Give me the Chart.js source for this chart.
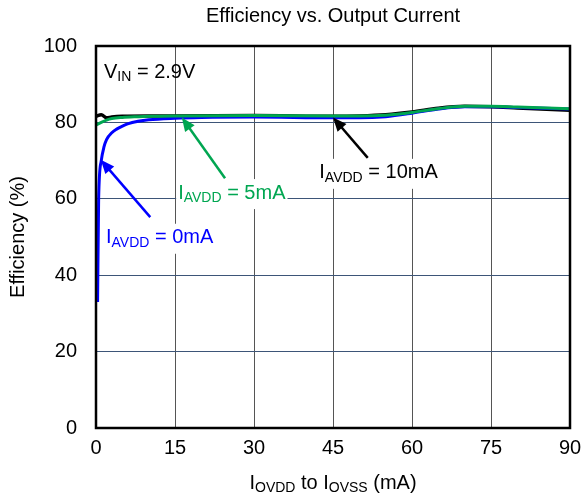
<!DOCTYPE html>
<html>
<head>
<meta charset="utf-8">
<script src="https://cdn.jsdelivr.net/npm/chart.js@4"></script>
<style>
  html, body { margin: 0; padding: 0; background: #fff; }
  #wrap { width: 582px; height: 503px; }
</style>
</head>
<body>
<div id="wrap"><canvas id="grafico"></canvas></div>
<script>
// efficiency curves (x = I_OVDD to I_OVSS in mA, y = efficiency %)
const x0mA = [0.3, 0.5, 1, 1.5, 2, 3, 4, 5, 6, 8, 10, 15, 20, 30, 45, 50, 55, 60, 65, 70, 75, 80, 90];
const y0mA = [33, 60, 70, 73.5, 75.5, 77.3, 78.3, 79, 79.6, 80.3, 80.7, 81.1, 81.3, 81.4, 81.2, 81.2, 81.5, 82.4, 83.5, 84.1, 84.1, 83.9, 83.5];

const x5mA = [0, 1, 2, 3, 5, 8, 10, 15, 30, 45, 50, 55, 60, 65, 70, 75, 80, 90];
const y5mA = [79.3, 80, 80.6, 81, 81.3, 81.5, 81.6, 81.7, 81.8, 81.7, 81.7, 81.9, 82.6, 83.6, 84.2, 84.2, 84, 83.6];

const x10mA = [0, 1, 2, 3, 5, 10, 15, 30, 45, 50, 55, 60, 65, 70, 75, 80, 90];
const y10mA = [81.6, 82, 81.2, 81.4, 81.6, 81.7, 81.7, 81.8, 81.6, 81.7, 82, 82.7, 83.7, 84.2, 84.1, 83.8, 83.2];

const xTicks = [0, 15, 30, 45, 60, 75, 90];
const yTicks = [0, 20, 40, 60, 80, 100];

const FONTE = "'Liberation Sans', Arial, sans-serif";
const GRANDE = 20, PEQUENO = 14;

function pontos(xs, ys) {
    return xs.map((x, i) => ({ x: x, y: ys[i] }));
}

// labels with arrows: tip and tail in data units, text anchored at (tx, ty)
const anotacoes = [
    { cor: "#00a651", sub: "AVDD", resto: " = 5mA", tx: 15.6, ty: 61.5, tail: [24.5, 65.4], tip: [16.3, 81.3] },
    { cor: "#0000ff", sub: "AVDD", resto: " = 0mA", tx: 1.9, ty: 49.8, tail: [10.3, 55.2], tip: [0.9, 70.2] },
    { cor: "#000000", sub: "AVDD", resto: " = 10mA", tx: 42.4, ty: 66.8, tail: [51.6, 70.7], tip: [45, 81.3] }
];

function textoSub(ctx, x, y, principal, sub, resto, grande, pequeno) {
    ctx.font = grande + "px " + FONTE;
    ctx.fillText(principal, x, y);
    x += ctx.measureText(principal).width;
    ctx.font = pequeno + "px " + FONTE;
    ctx.fillText(sub, x, y + 5);
    x += ctx.measureText(sub).width;
    ctx.font = grande + "px " + FONTE;
    ctx.fillText(resto, x, y);
    return x + ctx.measureText(resto).width;
}

function larguraSub(ctx, principal, sub, resto, grande, pequeno) {
    ctx.font = grande + "px " + FONTE;
    let w = ctx.measureText(principal).width + ctx.measureText(resto).width;
    ctx.font = pequeno + "px " + FONTE;
    return w + ctx.measureText(sub).width;
}

const pluginExtras = {
    id: "extras",
    afterDatasetsDraw(chart) {
        const ctx = chart.ctx;
        const sx = chart.scales.x, sy = chart.scales.y;
        const area = chart.chartArea;
        ctx.save();

        // frame
        ctx.strokeStyle = "#000";
        ctx.lineWidth = 2.5;
        ctx.strokeRect(area.left, area.top, area.right - area.left, area.bottom - area.top);

        ctx.textBaseline = "middle";
        ctx.textAlign = "left";

        // arrows and labels
        anotacoes.forEach(a => {
            const x1 = sx.getPixelForValue(a.tail[0]), y1 = sy.getPixelForValue(a.tail[1]);
            const x2 = sx.getPixelForValue(a.tip[0]), y2 = sy.getPixelForValue(a.tip[1]);
            const ang = Math.atan2(y2 - y1, x2 - x1);
            const cab = 15;
            ctx.strokeStyle = a.cor;
            ctx.fillStyle = a.cor;
            ctx.lineWidth = 2.5;
            ctx.beginPath();
            ctx.moveTo(x1, y1);
            ctx.lineTo(x2 - Math.cos(ang) * cab * 0.8, y2 - Math.sin(ang) * cab * 0.8);
            ctx.stroke();
            ctx.beginPath();
            ctx.moveTo(x2, y2);
            ctx.lineTo(x2 - cab * Math.cos(ang - 0.4), y2 - cab * Math.sin(ang - 0.4));
            ctx.lineTo(x2 - cab * Math.cos(ang + 0.4), y2 - cab * Math.sin(ang + 0.4));
            ctx.closePath();
            ctx.fill();

            const tx = sx.getPixelForValue(a.tx), ty = sy.getPixelForValue(a.ty);
            const w = larguraSub(ctx, "I", a.sub, a.resto, GRANDE, PEQUENO);
            ctx.fillStyle = "#fff";
            ctx.fillRect(tx - 2, ty - 14, w + 4, 30);
            ctx.fillStyle = a.cor;
            textoSub(ctx, tx, ty, "I", a.sub, a.resto, GRANDE, PEQUENO);
        });

        // V_IN box
        ctx.fillStyle = "#000";
        textoSub(ctx, area.left + 8, area.top + 26, "V", "IN", " = 2.9V", GRANDE, PEQUENO);
        ctx.restore();
    },
    afterDraw(chart) {
        const ctx = chart.ctx;
        const area = chart.chartArea;
        ctx.save();
        ctx.fillStyle = "#000";
        ctx.textBaseline = "middle";
        // chart title
        ctx.font = "20px " + FONTE;
        ctx.textAlign = "center";
        ctx.fillText("Efficiency vs. Output Current", (area.left + area.right) / 2, 16);
        // x axis title with subscripts
        ctx.textAlign = "left";
        const w = larguraSub(ctx, "I", "OVDD", " to I", GRANDE, PEQUENO) + larguraSub(ctx, "", "OVSS", " (mA)", GRANDE, PEQUENO);
        let x = (area.left + area.right) / 2 - w / 2;
        x = textoSub(ctx, x, 483, "I", "OVDD", " to I", GRANDE, PEQUENO);
        textoSub(ctx, x, 483, "", "OVSS", " (mA)", GRANDE, PEQUENO);
        // y axis title
        ctx.translate(18, (area.top + area.bottom) / 2);
        ctx.rotate(-Math.PI / 2);
        ctx.textAlign = "center";
        ctx.font = GRANDE + "px " + FONTE;
        ctx.fillText("Efficiency (%)", 0, 0);
        ctx.restore();
    }
};

document.addEventListener("DOMContentLoaded", () => {
    const ctx = document.getElementById("grafico").getContext("2d");

    new Chart(ctx, {
        type: "line",
        data: {
            datasets: [
                {
                    label: "IAVDD = 5mA",
                    data: pontos(x5mA, y5mA),
                    borderColor: "#00a651",
                    borderWidth: 3,
                    pointRadius: 0,
                    cubicInterpolationMode: "monotone"
                },
                {
                    label: "IAVDD = 0mA",
                    data: pontos(x0mA, y0mA),
                    borderColor: "#0000ff",
                    borderWidth: 3,
                    pointRadius: 0,
                    cubicInterpolationMode: "monotone"
                },
                {
                    label: "IAVDD = 10mA",
                    data: pontos(x10mA, y10mA),
                    borderColor: "#000000",
                    borderWidth: 3.5,
                    pointRadius: 0,
                    cubicInterpolationMode: "monotone"
                }
            ]
        },
        options: {
            responsive: true,
            maintainAspectRatio: false,
            animation: false,
            layout: { padding: { top: 46, right: 12, left: 0, bottom: 0 } },
            plugins: {
                legend: { display: false },
                tooltip: { enabled: false }
            },
            scales: {
                x: {
                    type: "linear",
                    min: 0,
                    max: 90,
                    afterBuildTicks: s => { s.ticks = xTicks.map(v => ({ value: v })); },
                    afterFit: s => { s.height = 75; s.paddingLeft = 0; s.paddingRight = 0; },
                    grid: { color: "#555", lineWidth: 1, drawTicks: false },
                    border: { display: false },
                    ticks: { color: "#000", font: { family: FONTE, size: GRANDE }, padding: 8, maxRotation: 0 }
                },
                y: {
                    min: 0,
                    max: 100,
                    afterBuildTicks: s => { s.ticks = yTicks.map(v => ({ value: v })); },
                    afterFit: s => { s.width = 96; s.paddingTop = 0; s.paddingBottom = 0; },
                    grid: { color: "#3d5578", lineWidth: 1, drawTicks: false },
                    border: { display: false },
                    ticks: { color: "#000", font: { family: FONTE, size: GRANDE }, padding: 19 }
                }
            }
        },
        plugins: [pluginExtras]
    });
});
</script>
</body>
</html>
